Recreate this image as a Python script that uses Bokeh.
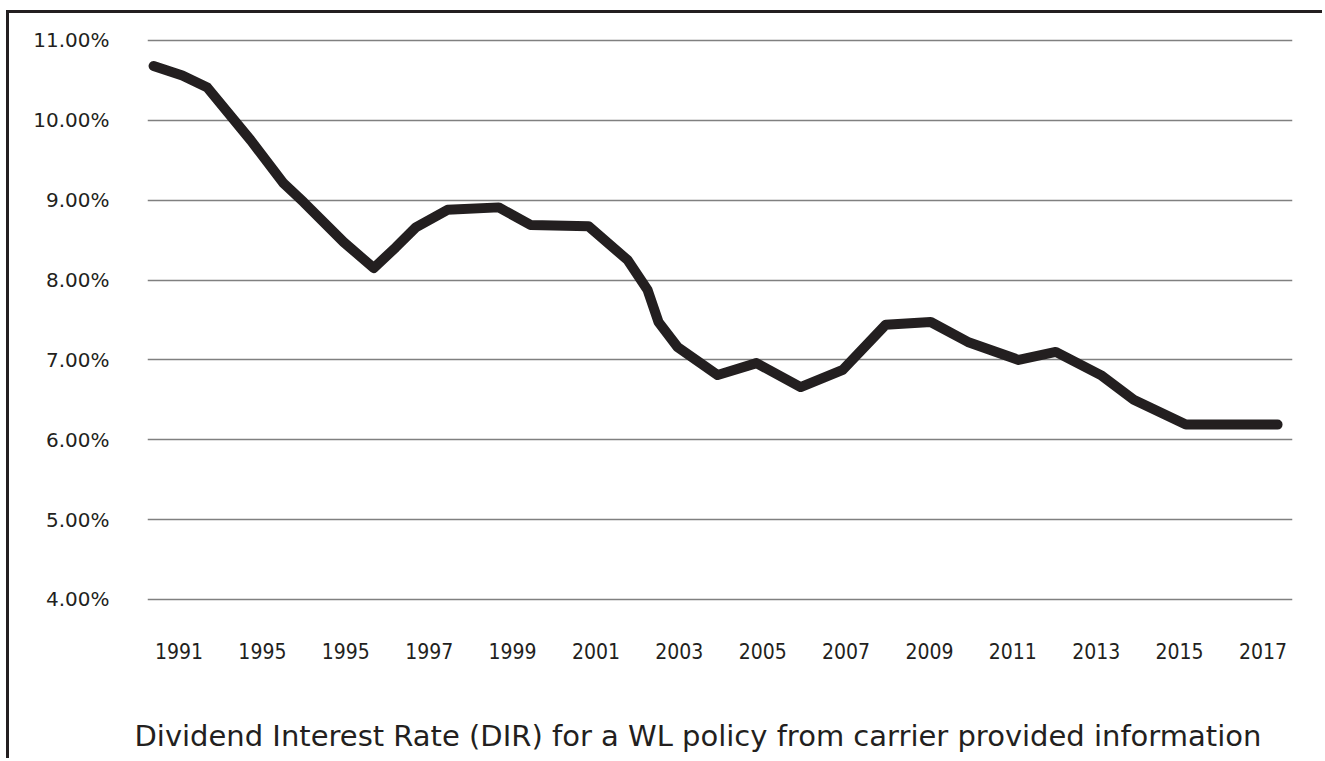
from bokeh.plotting import figure
from bokeh.models import FixedTicker, Title, Range1d
from bokeh.embed import file_html
from bokeh.resources import INLINE

# data
years = [1990.39, 1991.08, 1991.68, 1992.72, 1993.51, 1993.99, 1994.95, 1995.67,
         1996.20, 1996.68, 1997.44, 1998.67, 1999.43, 2000.82, 2001.76, 2002.24,
         2002.50, 2002.96, 2003.92, 2004.85, 2005.91, 2006.92, 2007.95, 2009.03,
         2009.92, 2011.14, 2012.03, 2013.11, 2013.90, 2015.15, 2017.35]
rates = [10.68, 10.56, 10.41, 9.75, 9.21, 8.975, 8.475, 8.15,
         8.41, 8.66, 8.88, 8.91, 8.69, 8.675, 8.25, 7.875,
         7.475, 7.16, 6.81, 6.96, 6.66, 6.875, 7.44, 7.475,
         7.225, 7.0, 7.1, 6.81, 6.5, 6.19, 6.19]

tick_years = [1991, 1993, 1995, 1997, 1999, 2001, 2003, 2005, 2007, 2009, 2011, 2013, 2015, 2017]
tick_labels = ["1991", "1995", "1995", "1997", "1999", "2001", "2003", "2005",
               "2007", "2009", "2011", "2013", "2015", "2017"]
y_ticks = [4, 5, 6, 7, 8, 9, 10, 11]
y_labels = ["4.00%", "5.00%", "6.00%", "7.00%", "8.00%", "9.00%", "10.00%", "11.00%"]

title_text = "Dividend Interest Rate (DIR) for a WL policy from carrier provided information"

DARK = "#231f20"

p = figure(width=1316, height=748, output_backend="svg", toolbar_location=None,
           x_range=Range1d(1990.244, 2017.708), y_range=Range1d(3.737, 11.25),
           min_border_left=138, min_border_right=33, min_border_top=7, min_border_bottom=141)

p.styles = {"border-top": "3px solid #231f20", "border-left": "3px solid #231f20",
            "margin-top": "10px", "margin-left": "6px"}

p.outline_line_color = None
p.background_fill_color = "white"
p.border_fill_color = "white"

p.line(years, rates, line_color=DARK, line_width=10, line_cap="round", line_join="round")

# axes
p.xaxis.ticker = FixedTicker(ticks=tick_years)
p.xaxis.major_label_overrides = {t: l for t, l in zip(tick_years, tick_labels)}
p.yaxis.ticker = FixedTicker(ticks=y_ticks)
p.yaxis.major_label_overrides = {t: l for t, l in zip(y_ticks, y_labels)}

for ax in (p.xaxis, p.yaxis):
    ax.axis_line_color = None
    ax.major_tick_line_color = None
    ax.minor_tick_line_color = None
    ax.major_label_text_color = DARK

p.xaxis.major_label_text_font = "DejaVu Sans Condensed"
p.xaxis.major_label_text_font_size = "21px"
p.xaxis.major_label_standoff = 16
p.yaxis.major_label_text_font = "DejaVu Sans"
p.yaxis.major_label_text_font_size = "20px"
p.yaxis.major_label_standoff = 32

p.xgrid.grid_line_color = None
p.ygrid.grid_line_color = "#808080"
p.ygrid.grid_line_width = 1.5

# spacer between tick labels and the caption
spacer = Title(text=" ", text_font_size="1px", standoff=52, text_color="white")
p.add_layout(spacer, "below")

t = Title(text=title_text, align="left", offset=-13, text_font="DejaVu Sans",
          text_font_size="29px", text_font_style="normal", text_color=DARK, standoff=0)
p.add_layout(t, "below")

open("out.html", "w").write(file_html(p, INLINE))
